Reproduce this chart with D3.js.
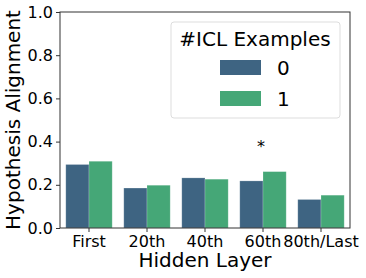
<!DOCTYPE html>
<html lang="en">
	<head>
		<meta charset="utf-8">
		<title>Hypothesis Alignment</title>
		<script type="text/javascript" src="https://cdn.jsdelivr.net/npm/d3@7"></script>
		<style type="text/css">
			body{
				margin: 0;
				background: #fff;
			}
			text{
				font-family: "DejaVu Sans", sans-serif;
			}
		</style>
	</head>
	<body>
		<script type="text/javascript">

			//Data
			var layers = ["First", "20th", "40th", "60th", "80th/Last"];
			var iclCounts = ["0", "1"];
			var values0 = [0.294, 0.185, 0.232, 0.218, 0.132];
			var values1 = [0.309, 0.198, 0.226, 0.261, 0.152];
			var yTicks = [0.0, 0.2, 0.4, 0.6, 0.8, 1.0];
			var starLayer = "60th";

			var colors = ["#3e6482", "#45a777"];

			var width = 366, height = 278;
			var padL = 60, padR = 350, padT = 12, padB = 228;

			var svg = d3.select("body")
						.append("svg")
						.attr("width", width)
						.attr("height", height);

			var x = d3.scaleBand().domain(layers).range([padL, padR]).paddingInner(0).paddingOuter(0);
			var xSub = d3.scaleBand().domain(iclCounts).range([x.bandwidth() * 0.1, x.bandwidth() * 0.9]);
			var y = d3.scaleLinear().domain([0, 1]).range([padB, padT]);

			var rows = [];
			layers.forEach(function(l, i) {
				rows.push({layer: l, k: "0", v: values0[i]});
				rows.push({layer: l, k: "1", v: values1[i]});
			});

			//Bars
			svg.append("g").selectAll("rect")
				.data(rows)
				.enter()
				.append("rect")
				.attr("x", function(d) {return x(d.layer) + xSub(d.k);})
				.attr("y", function(d) {return y(d.v);})
				.attr("width", xSub.bandwidth())
				.attr("height", function(d) {return y(0) - y(d.v);})
				.attr("fill", function(d) {return colors[iclCounts.indexOf(d.k)];})
				.attr("stroke", "rgba(255,255,255,0.25)")
				.attr("stroke-width", 0.8);

			//Axes
			var xAxis = svg.append("g")
				.attr("transform", "translate(0," + padB + ")")
				.call(d3.axisBottom(x).tickSize(4).tickPadding(4));
			xAxis.select(".domain").remove();
			xAxis.selectAll("text").attr("font-size", 16).attr("fill", "#000")
				.style("font-family", "DejaVu Sans, sans-serif");
			xAxis.selectAll("line").attr("stroke", "#333");

			var yAxis = svg.append("g")
				.attr("transform", "translate(" + padL + ",0)")
				.call(d3.axisLeft(y).tickValues(yTicks).tickFormat(d3.format(".1f")).tickSize(4).tickPadding(3));
			yAxis.select(".domain").remove();
			yAxis.selectAll("text").attr("font-size", 16).attr("fill", "#000")
				.style("font-family", "DejaVu Sans, sans-serif");
			yAxis.selectAll("line").attr("stroke", "#333");

			//Frame
			svg.append("rect")
				.attr("x", padL)
				.attr("y", padT)
				.attr("width", padR - padL)
				.attr("height", padB - padT)
				.attr("fill", "none")
				.attr("stroke", "#333")
				.attr("stroke-width", 1);

			//Significance mark
			svg.append("text")
				.attr("x", x(starLayer) + x.bandwidth() / 2 - 2)
				.attr("y", 152)
				.attr("text-anchor", "middle")
				.attr("font-size", 16)
				.text("*");

			//Axis labels
			svg.append("text")
				.attr("x", (padL + padR) / 2)
				.attr("y", 267)
				.attr("text-anchor", "middle")
				.attr("font-size", 20)
				.text("Hidden Layer");

			svg.append("text")
				.attr("transform", "translate(20," + ((padT + padB) / 2) + ") rotate(-90)")
				.attr("text-anchor", "middle")
				.attr("font-size", 20)
				.text("Hypothesis Alignment");

			//Legend
			var legend = svg.append("g");
			legend.append("rect")
				.attr("x", 171)
				.attr("y", 22)
				.attr("width", 169)
				.attr("height", 96)
				.attr("rx", 3)
				.attr("fill", "rgba(255,255,255,0.8)")
				.attr("stroke", "#ddd");
			legend.append("text")
				.attr("x", 255)
				.attr("y", 46)
				.attr("text-anchor", "middle")
				.attr("font-size", 20)
				.text("#ICL Examples");
			legend.selectAll(".patch")
				.data(iclCounts)
				.enter()
				.append("rect")
				.attr("x", 220)
				.attr("y", function(d, i) {return 60 + i * 31;})
				.attr("width", 41)
				.attr("height", 15)
				.attr("fill", function(d, i) {return colors[i];});
			legend.selectAll(".lab")
				.data(iclCounts)
				.enter()
				.append("text")
				.attr("x", 277)
				.attr("y", function(d, i) {return 75 + i * 31;})
				.attr("font-size", 20)
				.text(function(d) {return d;});

		</script>
	</body>
</html>
